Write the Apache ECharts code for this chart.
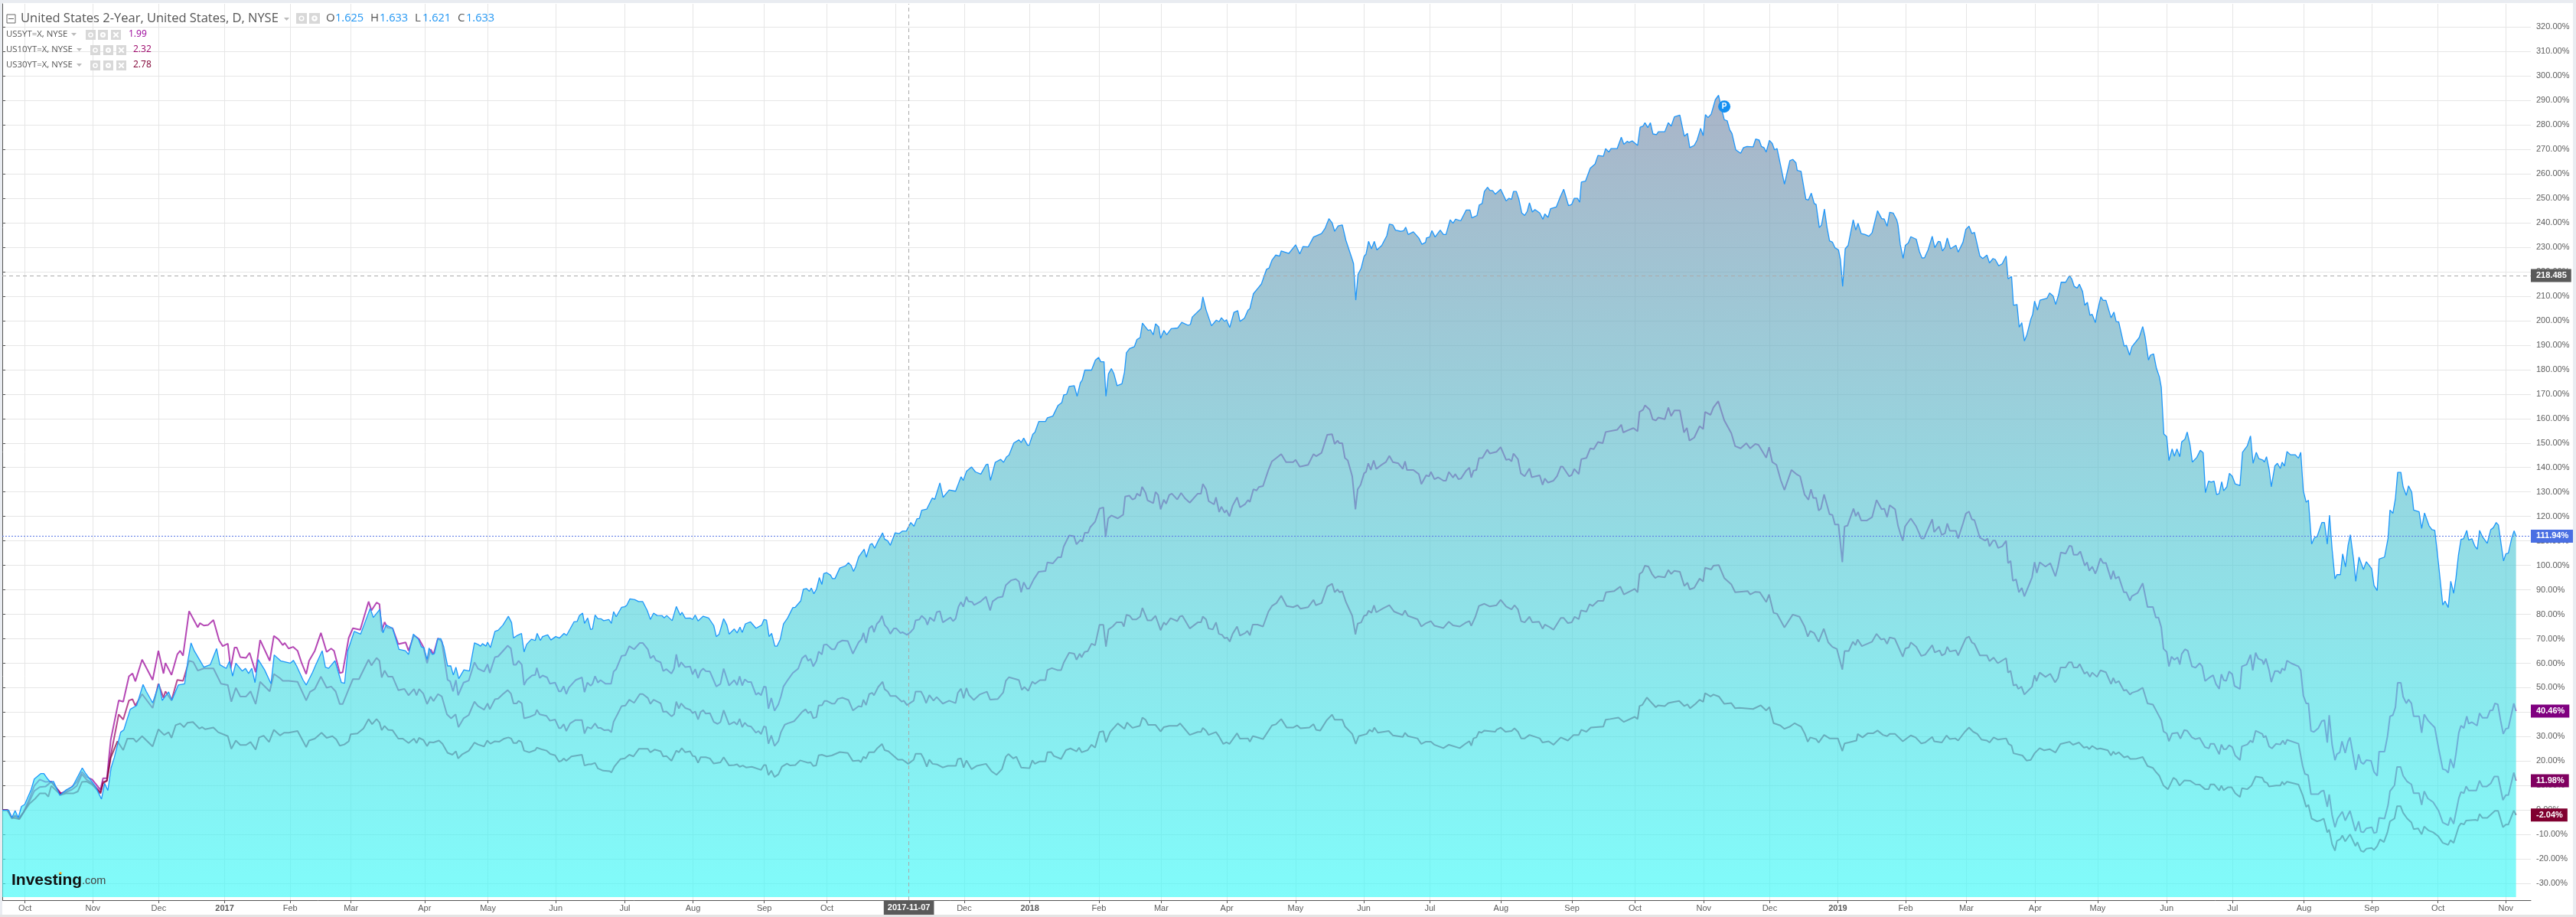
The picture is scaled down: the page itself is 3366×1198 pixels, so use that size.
<!DOCTYPE html>
<html><head><meta charset="utf-8"><style>html,body{margin:0;padding:0;background:#fff}#c{width:3366px;height:1198px}</style>
<script src="https://cdn.jsdelivr.net/npm/echarts@6/dist/echarts.min.js"></script></head><body><div id="c"></div>
<script>
// x = trading session counted from the first bar, y = % change since then
const monthSessions=[7.1,28.3,48.9,69.5,90,109,132,151.8,173,194.6,215.9,238.2,257.8,279.3,300.7,321.2,342.8,362.3,382.8,404.3,425.6,446.3,468.5,490.7,510.4,531.9,552.5,573.8,595,614,635.5,655,676.6,697.2,719.5,740.7,761.4,782.6];
const monthLabels=['Oct','Nov','Dec','2017','Feb','Mar','Apr','May','Jun','Jul','Aug','Sep','Oct','Nov','Dec','2018','Feb','Mar','Apr','May','Jun','Jul','Aug','Sep','Oct','Nov','Dec','2019','Feb','Mar','Apr','May','Jun','Jul','Aug','Sep','Oct','Nov'];
const percentTicks=[-30,-20,-10,0,10,20,30,40,50,60,70,80,90,100,110,120,130,140,150,160,170,180,190,200,210,220,230,240,250,260,270,280,290,300,310,320];
const lastValues={us2y:111.94,us5y:40.46,us10y:11.98,us30y:-2.04};
const crosshairSession=283.4, crosshairPercent=218.4, crosshairPriceText='218.485', crosshairDateText='2017-11-07';
const noteSession=538.3, notePercent=287.5;

const us2y=[[0,0],[2,0],[3,-3.1],[4,-0.2],[5,-3.1],[6,1.5],[7,2.3],[9,8.3],[10,12.7],[12,14.9],[13,14.9],[14,13],[15,11.5],[16,11.7],[18,6],[20,8.3],[22,9.7],[25,17.2],[26,15.1],[29,9.9],[31,4.5],[32,10.9],[33,8],[34,17.2],[35,21.4],[37,31.8],[38,32.8],[40,41.2],[42,42.7],[44,51.3],[45,48.5],[47,43.8],[49,51.6],[50,44.8],[52,48.3],[53,44.8],[55,51.1],[57,51.6],[58,61],[59,68.3],[60,65.1],[63,58.4],[65,59.4],[67,66],[68,59.4],[70,57.9],[71,60.8],[72,54.7],[73,60],[75,56.8],[76,57.9],[77,55.8],[78,57.9],[79,52.1],[80,61.5],[82,57.3],[84,51.6],[85,63.4],[87,61],[90,60],[91,61.2],[92,58.9],[94,53.2],[95,51.1],[97,56.3],[98,59.4],[100,65.1],[101,58.4],[102,57.9],[104,61],[106,52.1],[107,51.8],[108,65.1],[110,73],[112,71.9],[115,82.4],[116,78.7],[118,82],[119,72.4],[120,75.6],[122,74.3],[124,65.7],[126,65.1],[127,63.6],
[128.5,71.9],[130.1,69.8],[131,66.7],[131.8,66.4],[132.8,61.5],[133.4,66.2],[134.4,63.6],[135.1,64],[136.1,70],[137.1,70],[138,66.7],[139.2,58.9],[140.2,58.9],[141,55.2],[141.8,58.4],[142.7,53.7],[144.3,57.3],[146,56.8],[147.6,68.3],[148.7,67.7],[149.5,67],[150.1,68],[151.2,67],[151.7,68.6],[152.6,66.4],[154,73],[155,73.5],[156.5,75.6],[158.2,79.2],[159.2,76.6],[159.8,70.3],[161,71.4],[162.3,72.2],[163.1,64.6],[163.9,67.7],[165.4,69.8],[166.6,69.3],[167.2,72.2],[168.2,69.3],[168.9,70.9],[170.5,71.6],[171.5,69.5],[173,70.9],[174.2,70.3],[175.6,72.2],[176.4,71.4],[178.7,76.9],[179.7,77.1],[180.4,79.5],[181.4,80.5],[182,76.3],[183,78.5],[183.9,73.8],[184.5,74],[185.3,79.7],[186.2,78.2],[187.1,78.2],[188,77.4],[189.6,77.9],[190.4,76.3],[191.1,81.1],[191.9,79],[193.6,82.9],[194.6,83.1],[195.2,83.7],[196.2,86.3],[197.7,86],[198.9,85.2],[200.2,85.2],[201.6,81.6],[202.6,77.9],[203.6,80.5],[204.7,79.5],[206.3,79.4],[206.9,78.5],[207.7,79.5],[209.4,77.4],[210.7,83.2],[211.9,79.7],[212.5,80.8],[213.5,78.4],[215,78.5],[215.8,77.9],[216.6,79.7],[217.5,77.3],[219.1,79.2],[220.8,78.5],[222.4,75.4],[223.2,70.9],[224.1,71.9],[225.5,78.2],[226.5,75.6],[227.2,71.9],[228.8,74],[229.7,72.4],[230.6,74.8],[231.3,72.6],[232.3,76.1],[233.9,76.9],[235.6,74.3],[237.4,75.6],[238.1,77.9],[238.9,77.6],[239.7,70.9],[240.5,72.2],[241.5,67],[242.2,67],[243.2,69.8],[244.2,76.1],[245.5,78.5],[247.1,82.7],[247.9,82.9],[249.6,85.5],[250.4,90.2],[251.4,90.5],[252.3,89.4],[252.9,90.7],[253.7,88.4],[254.5,90.2],[255.4,95],[256.2,92.2],[256.8,96.6],
[257.7,97],[258.9,96],[259.5,94.6],[260.3,94.6],[261.8,98.9],[263.6,99.8],[264.5,101.1],[265.3,100],[266.1,97.5],[266.8,99.6],[267.7,103.4],[269.4,106.6],[270.1,103.3],[271.3,108.5],[271.9,108.9],[272.7,107],[273.8,110],[275.2,113.3],[275.8,110.7],[276.8,110],[277.6,108.2],[279.1,113.3],[280.4,113],[281.4,114],[282.6,114],[284,117.5],[285,116],[285.9,119],[286.7,119.2],[287.4,122.5],[289,123],[290.7,127.5],[291.5,127],[293.1,133.7],[294.1,127.8],[296,130.8],[298,130.3],[299.7,136.2],[300.4,134.7],[301.4,138.4],[303,140.2],[304.2,138.2],[305.9,137.3],[307.5,141.1],[308.1,141.4],[308.9,134.7],[310.4,142.1],[312.1,143.3],[313,142.1],[313.9,144.3],[314.7,145.1],[316.2,150],[317.8,151.3],[318.5,150.2],[319.3,152],[320.5,149.1],[321,149.1],[322.1,153.5],[322.8,154.4],[324,158.8],[326.1,158.8],[326.7,160.3],[328.4,161],[330,165.3],[331.2,166.5],[331.8,169.7],[332.7,169.9],[333.5,173.1],[335.1,173.4],[336,169.1],[337,174.6],[337.6,175.8],[338.4,179.8],[340.5,179.8],[341.7,183.9],[342.7,185],[343.4,183.2],[344.4,183.2],[345,169.1],[345.8,178.3],[346.7,180.4],[347.5,178.3],[348.5,173.4],[350,174.2],[350.8,179],[351.4,186.9],[352.4,188.6],[353.9,189.4],[354.7,192.3],[355.7,193.1],[356.4,199],[358.2,196],[358.9,196.3],[359.8,194.2],[360.5,198.7],[361.5,197.5],[362.1,192.8],[363.1,196],[364,194.2],[365.4,196.7],[367.4,197],[368.7,199.3],[370.7,198.1],[371.4,198.5],[372,201.5],[374.7,204.9],[375.3,209.7],[376.3,204.4],[378,197.9],[379.5,200.2],[380.4,199.6],[381.1,201.2],[382.1,199.7],[382.7,200.4],[383.7,197.2],[385,203.4],[386.2,204.1],[386.9,199.7],
[388.3,201],[389.4,204.3],[390,204.9],[391.1,211],[392.4,213.1],[393.6,215],[395.2,221],[396,221.5],[396.9,224.7],[398.1,226.8],[399.3,226.4],[399.8,228.5],[402.2,227.5],[404.3,231],[405.6,227.3],[406.6,230.3],[408.2,230.1],[409.9,234.2],[412.4,235.6],[413.5,237.7],[414.7,241.7],[415.7,240],[416.5,236.5],[417.6,238.7],[418.9,239.1],[420,232.9],[422,225],[422.4,223.3],[423.1,208.4],[423.8,218.9],[424.8,221.5],[425.7,226.3],[426.3,227.2],[427.1,232.4],[428,229.4],[428.9,232.4],[429.7,228.9],[431.2,230.7],[432.8,234.7],[433.6,239.4],[434.7,239.1],[435.5,237],[437.2,236.5],[438.1,236.8],[438.7,238.2],[439.5,235.2],[441.1,236.3],[442.8,233.8],[443.8,231.2],[444.9,232],[445.2,233.8],[446.2,234.2],[446.9,236.8],[447.9,234.2],[449.5,237],[450.5,235.2],[451.3,235.2],[452.6,241.2],[453.5,239.8],[454.3,241.5],[455.9,240.8],[457.6,245.2],[458.8,245.2],[459.4,242],[461,243],[461.7,247.3],[462.6,247.9],[463.3,252.8],[464.3,254.5],[465,253.3],[465.9,253.1],[466.7,251.7],[468.4,253.7],[470.1,248.9],[471,250],[471.8,249.6],[472.4,252.8],[473.3,252.8],[474.1,249.6],[475,244],[475.9,243],[476.7,244.7],[477.4,248.2],[478.3,244.4],[479.1,245.4],[480.6,244],[481.6,241.4],[482.2,243.6],[483.2,242.2],[484,245.8],[485.8,246.5],[487,250.5],[488.1,253.7],[489.6,247],[490.6,247.5],[491.4,250],[492.4,250],[493.1,248.4],[493.6,256.6],[494.9,257],[496.4,262.3],[497.9,264],[498.8,267.5],[500.5,267.2],[501.2,270.3],[502.2,268.9],[502.9,270.3],[504.8,270.3],[506.1,275],[506.9,272.1],[508,273.3],[508.5,272.8],[509.5,273.5],[511.2,271.6],[512,279.1],[512.9,279.5],[513.5,280.9],[514.4,278.9],[515.2,280.9],[516,276.3],[517.1,276],[517.7,277.2],[519.7,277.2],[520.8,280.9],
[521.7,279.5],[522.7,283.3],[524.4,284],[525.8,275.4],[526.8,276.5],[527.5,270.7],[528.9,271.6],[529.8,273.8],[530.9,278.6],[531.7,275.6],[532.4,284.2],[533.2,283],[534.2,284.4],[535.5,290.3],[536.5,292.1],[537.3,287.4],[538.3,282.1],[539.2,281.7],[540,278],[540.7,276.5],[541.9,269.8],[543.4,268.4],[544.3,270.7],[545.4,271.2],[547.3,271],[548.1,274.2],[549.2,273.8],[549.9,271.2],[550.7,270.7],[551.4,268.9],[552.4,273.7],[553.3,272.4],[554,269.8],[554.8,270.3],[556,262.8],[557.1,255.8],[558.8,265.4],[559.7,265.9],[560.7,264.5],[561.1,261.4],[562.3,261],[563.8,249.6],[564.6,249.3],[565.5,252.1],[566.4,247.9],[567,247.5],[568,238],[568.7,239.1],[569.6,245.6],[570.4,238.2],[571.2,232.6],[572.1,232.1],[572.9,229.8],[574,228.9],[574.6,225],[575.3,214],[576.1,229.4],[577,230.7],[578.6,241.2],[579.4,237],[580.1,239.8],[581.1,235.6],[582.3,235.2],[583.5,234.5],[584.5,235.9],[586.2,244.9],[587.5,241.7],[588.3,241.5],[589.2,238.6],[590,244.3],[591.1,244],[592.2,241.2],[592.6,239.1],[593.3,231.2],[594.2,225.4],[594.9,230.8],[595.8,231.7],[596.6,234.3],[598.3,233.3],[599.3,228.2],[600.1,225.6],[600.9,225.7],[602,228.9],[603.3,234.5],[604.1,229.8],[605.2,232.4],[605.8,232.2],[606.5,228.5],[607.3,230],[608,233.8],[609,229.4],[610.7,230.8],[611.4,228],[612.9,232],[613.8,237.3],[614.8,238.6],[615.7,235.6],[616.5,236.1],[618.2,226.4],[619.1,225.4],[620.4,226.8],[621.2,223.6],[622.3,225.4],[623,225],[624.1,222.4],[625.2,223.3],[626.4,226.4],[627,217.1],[628.1,218],[628.7,206.3],[629.8,206.6],[630.5,197.3],[631.3,199.2],[632.1,191.7],[632.9,194.3],[634.1,200.5],[634.7,202.6],[635.3,208],[636.2,204.3],[637,208.4],[639.2,209.2],[640,211.3],[641.1,210.1],[641.9,206.6],[642.8,210.6],[643.6,215.7],[645,215.7],[646.2,218.4],[646.9,217.1],[647.7,214],[648.6,213.3],[649.3,214.9],[650.3,211.9],[651,206.3],[651.8,207.5],[652.6,202.2],[653.3,202.6],[654.3,199.2],[654.8,203.1],
[656,209.7],[656.7,208.3],[657.6,208.3],[659.2,201.2],[660.1,203.5],[660.8,199.6],[661.6,199.5],[663.3,189.6],[664,189.9],[665,185.9],[665.7,189.3],[668,193.1],[669.1,197.6],[669.8,193.6],[670.9,183.9],[671.5,185.9],[672.5,186.4],[673.4,180.5],[674.3,177.1],[674.9,172.8],[675.7,153.7],[676.6,152.6],[677.3,142.8],[678.3,147.6],[679,144.6],[679.8,147.6],[680.7,144.4],[681.3,150.5],[682.3,151.6],[683,154.5],[683.9,149.2],[684.6,142.2],[686,144.1],[687.1,147],[688,146],[688.7,129.7],[689.7,134.4],[690.5,134],[691.4,134.4],[692.2,128.9],[693,129.3],[693.8,134.2],[694.4,130.5],[695.4,132.1],[696.2,137.6],[697.1,136.4],[698,133.3],[699.5,132.6],[700.3,146.2],[701.8,148.9],[702.8,152.9],[703.6,141.7],[704.6,146.2],[705.4,143.6],[706.7,143],[707.1,142.2],[707.8,144.4],[708.6,139.3],[709.3,132.1],[710.4,140.6],[711.2,141.7],[712.1,139.6],[712.7,142.2],[713.4,140.6],[714.2,146.5],[715.3,145.2],[716.8,145.2],[717.8,143.8],[718.5,146.2],[719.3,130.5],[720.2,125.8],[720.9,126.6],[721.9,108.7],[722.8,111.4],[723.6,111.7],[725.1,117.5],[725.9,117.5],[726.8,108.7],[727.5,120.5],[728.3,106.6],[729.2,94.5],[729.8,96.2],[730.9,96.2],[731.6,104.7],[732.5,99.4],[733.3,108.2],[734,112.5],[735,102.6],[735.7,93.5],[736.7,103.4],[738.1,98.3],[739,101.5],[740.7,98.6],[741.4,91.8],[742.4,89.7],[743,102.6],[744.7,103.4],[745.8,111.1],[746.4,122.6],[747.3,121.3],[748.1,127.4],[748.8,138],[749.8,138],[750.5,132.1],[751.5,128.6],[752.2,132.5],[753.2,129.9],[753.8,122.6],[755.5,121.9],[756.3,115.1],[757.2,121.4],[758.6,116.2],[759.5,114.6],[760.4,114.3],[761.6,100.2],[762.9,83.8],[763.6,85.4],[764.6,82.8],[765.4,93.5],[766.3,88.6],[767,94.6],[767.8,104.2],[768.6,110.6],[769.4,110.9],[770.4,114.3],[771,110.3],[772,110.9],[772.9,107.9],[773.7,106.6],[774.4,114.3],[775.3,111.7],[776.8,109],[777.9,114.6],[778.7,115.4],[779.6,117.5],[780.3,116.5],[781.1,109],[781.9,101.8],[782.6,104.7],[783.4,105],[784.5,111.4],[785.2,114.1],[785.8,111.94]];

const us5y=[[0,0],[1.6,0],[3,-3.1],[4,-2.1],[5.3,-3.1],[6.6,-1],[8.5,4.7],[10,9.9],[11.7,12.5],[13.5,11.5],[15.3,11.7],[18.3,6.8],[19.9,7.8],[21.7,9.4],[23.3,11.5],[24.9,15.6],[26.3,13.5],[28.1,12.5],[30.7,8.3],[31.5,13],[32.7,13],[33.9,28.7],[36.4,44.8],[37.8,44.3],[39.6,54.7],[40.7,55.8],[41.6,52.6],[43.7,61.5],[47,53.2],[48.8,65.1],[50.4,55.8],[51,60.1],[52.9,55.2],[54.7,63.6],[55.6,65.1],[56.5,63.1],[58.4,81.3],[61.1,74.7],[61.8,76.4],[63,75.4],[64.3,75.6],[66,77.7],[67.8,69.3],[68.9,67],[70.5,68],[71.4,57.9],[72.6,66.4],[73.3,66.4],[74.4,62.5],[76.2,62.2],[77.3,64.3],[79.2,56.3],[80.6,69.5],[83.6,61],[84.9,71.2],[86.3,69.8],[87.7,67.4],[88.3,68.3],[89.5,66],[90.9,66.7],[92.3,65.1],[93.6,60],[95,55.6],[95.9,61],[97.7,65.1],[99.6,72.4],[101.4,64.6],[102.8,66],[103.7,65.1],[105.5,56],[106.4,56.3],[108.3,70.4],[109.6,74.3],[111.9,73.7],[114.5,85.2],[115.4,81.6],[117,84.8],[117.9,84.1],[118.6,73],[119.5,76.8],[120.4,74.5],[122,74.3],[123.8,67.8],[126.1,68.5],[127,65.1],[128.7,71.4],[130.3,69.8],[131.6,66.7],[132.8,60],[133.9,65.7],[134.8,63.6],[136.2,70.2],[137.4,68.8],
[139.2,53.2],[140,52.6],[140.9,48.5],[141.8,53.1],[142.5,46.9],[144.2,52.1],[145.8,52.9],[147.6,60.4],[148.7,57.8],[150.6,56.6],[151.7,59.6],[152.4,56],[154,62.5],[155,62.8],[158,67.2],[159,66],[159.8,59.4],[160.6,59.4],[161.4,61],[162.4,59.4],[163.1,51.1],[163.9,53.1],[165.6,55],[166.6,55.2],[167.1,58.1],[168,54],[168.9,55],[170.3,54.2],[171.2,51.6],[172.8,52.1],[174,48.5],[174.6,48.5],[175.5,50.6],[176.3,47.4],[177.1,50],[179.2,53.1],[181.2,54.2],[182,48.2],[182.9,52.1],[183.9,50.8],[184.5,51.6],[185.3,54.7],[186.2,52.1],[187,53.1],[188.6,51.6],[190.3,51.6],[191.1,56.6],[191.9,57.6],[193.6,63],[194.8,63.3],[196,67],[197.5,65.7],[199.3,68.3],[200.2,68.3],[201.8,65.7],[202.6,62],[203.6,63.1],[204.3,61.2],[205.8,60.4],[206.6,56.8],[207.6,57.6],[209.2,55.8],[210,57.8],[210.7,63.6],[211.5,58.4],[212.2,60.4],[213.5,58.4],[215,58.7],[215.8,55.4],[216.6,57.6],[217.5,53.9],[218.3,56.8],[219.1,57.8],[219.9,56.8],[221.2,56.6],[223.2,50.5],[224.5,51.6],[225.5,57.8],[227.2,50.9],[228.8,53.1],[229.7,51.1],[230.5,54.7],[231.3,50.9],[232.1,53.4],[233.1,52.3],[234.1,52.3],[235.6,47.1],[236.4,47.9],[237.2,46.9],[238.1,50.5],[238.7,50.3],[239.5,41.4],[240.4,45.8],[241.4,40.6],[242.6,43.2],[243.4,46.4],[244.2,50.5],[245.5,53.1],[247.1,56],[248.8,57.8],[250,62],[251.1,63.3],[251.9,61],[252.7,61.8],[253.5,58.7],[254.5,61],[255.2,64.8],[256.2,63.6],[256.8,67.5],[257.7,67.7],
[259.3,65.7],[260.2,65.7],[261.2,68.3],[262.6,69.3],[264.3,69.1],[265.9,63.9],[267.7,68.6],[268.6,69.8],[269.2,72.4],[270,68.3],[271,74.2],[271.9,75.3],[272.5,72.7],[273.4,76.1],[274.2,77.2],[275,79.4],[275.8,75.7],[276.8,74.2],[277.6,72],[278.7,74.2],[279.5,74.2],[280.8,72.3],[281.4,72.7],[282.8,71.6],[283.9,72.7],[284.9,74.2],[285.5,77.5],[286.7,77.9],[287.4,79.4],[288.6,77.9],[289.2,75.7],[290,78.7],[291.3,77.2],[292.1,80.9],[293.1,81.3],[294,76.7],[296.4,78.7],[297.2,77.2],[298,78.2],[298.9,83.1],[299.7,85],[300.4,83.1],[301.4,87.2],[302,85.3],[303.2,85],[303.8,83.8],[305.9,85.3],[307.5,87.2],[308.8,81.6],[309.6,85.3],[311.2,86.8],[312.7,87.2],[313.7,91.9],[315.4,93.9],[316.8,94.4],[317.8,93.4],[318.5,89],[319.3,93.1],[320.3,90.5],[321,90.5],[322.4,94.2],[324,97.4],[326.1,97.7],[326.7,101.2],[328.4,100.8],[330,103.3],[331,103.3],[331.8,107.7],[333.5,112.2],[335,111.9],[335.8,108.6],[337,110.4],[337.6,109.7],[338.4,113.3],[339.4,113.3],[340.1,115.6],[341.6,117.8],[343,123.2],[344.2,123.7],[344.9,111.6],[345.7,119.2],[346.7,120.4],[348.7,119.2],[350.4,120.7],[351,128.1],[352.3,128.5],[353.3,126.9],[354.1,127.4],[354.7,129.3],[355.7,128.4],[356.3,132.1],[357.4,129.6],[358,126.6],[359.8,125.4],[360.5,130],[361.3,128.8],[362.1,122.9],[363.1,126.9],[363.8,125.2],[364.8,128.8],[365.6,129.3],[367.3,126.9],[368.5,129.6],[369.7,127.4],[371.2,125.6],[373.7,129.3],[374.7,129.3],[375.3,133.3],[376.3,131.1],[377.1,126.3],[378.8,124.9],[379.4,127.8],[380.4,121.8],[381.1,124],[382.1,121.5],[382.7,122.6],[383.6,120],[384.6,124.4],[386,127.8],[386.9,123.7],
[388.5,125],[389.4,126.7],[390,125.9],[391.1,131.1],[392.1,130.6],[392.8,132],[394.1,132.4],[395.8,139],[396.9,142.5],[398.3,143.9],[399.8,145.5],[401.3,142.2],[403.5,142.2],[404.3,143.1],[405.6,140.3],[408.2,141.1],[409.9,145.5],[410.7,144.6],[412.4,146],[414.2,153.4],[415.7,153.6],[416.5,149.6],[417.4,151],[418,149.9],[418.9,149.9],[419.7,143.9],[420.6,142.9],[422,136.4],[423,122.9],[423.7,131.1],[424.6,132.9],[425.7,137.6],[426.3,138.2],[427,141.7],[427.8,139],[428.7,142.9],[429.5,139.4],[431.4,141.3],[432.5,142.2],[433.6,144.8],[434.7,142.2],[436.4,141.7],[437.8,139.4],[438.5,142.5],[439.1,139],[441.1,139],[442.8,137.3],[443.6,133.2],[445.1,136.8],[446,136.4],[446.6,138.2],[447.7,135.2],[448.8,136],[450.5,134.6],[451.3,134.6],[452.2,138.2],[453.5,135.9],[454.2,137.3],[455.2,135.2],[456,135.5],[457.6,138.7],[458.6,139.9],[459.2,135.9],[459.9,138.7],[460.8,139],[461.6,143.8],[462.7,143.9],[464.2,147.3],[465,145.7],[467.1,146.4],[468.4,148.3],[470.1,143.1],[471,143.4],[471.8,142.5],[472.4,145.7],[473.8,143.4],[474.7,137.6],[475.9,136.4],[477.4,139.6],[478.1,136],[480.6,136.8],[481.5,132.9],[482.2,135.5],[483.2,133.8],[484.9,134.6],[486,136.4],[487.2,140.4],[487.8,140.3],[489.8,136.4],[490.6,136.9],[491.4,139.4],[492.8,137.3],[493.6,143.4],[495.2,143.9],[496.4,147.8],[497.5,147.5],[498.8,150.4],[500.3,149.9],[501.2,154.5],[504.8,155.4],[506.1,157.5],[506.7,154.3],[508.2,155.2],[509.9,156.1],[511.2,154.8],[511.8,162.7],[512.9,163.6],[513.5,165.4],[515,163.6],[515.9,159.7],[516.9,159.2],[517.7,160.4],[519.7,159.7],[520.8,164.5],
[521.7,161],[522.7,163.3],[524.4,163.3],[525.7,154.3],[526.6,156.2],[527.4,151],[528.9,152.2],[530.6,156.9],[531.7,155.7],[532.3,162.7],[534,161.5],[534.9,164.5],[536.4,167.1],[538.3,159.2],[540.5,154],[541.7,148.7],[543.4,147.8],[545.2,149.9],[546.4,147.8],[548,149.6],[549,149.2],[551.4,144],[552.3,148.3],[553.3,142.2],[554.6,141.1],[556,134.6],[557.1,130.8],[559.3,139],[560.8,137.3],[562,136.4],[563.4,128.9],[564.6,126.8],[565.4,131.1],[566.1,127.6],[567,127.6],[567.8,122.4],[568.5,123.2],[569.5,129],[571.2,120.9],[572.1,120.6],[572.9,116.7],[574,116.7],[575.2,101.3],[575.9,115.9],[576.8,116.2],[578.7,123.2],[579.4,120.1],[580.1,121.8],[581.1,118.3],[582.8,118.3],[584.5,119.7],[585.9,126.7],[587.5,122.9],[588.3,123.2],[589.2,119.7],[590,124.6],[591.7,122.9],[592.6,116.2],[593.4,112.7],[594.1,110.1],[594.8,115.9],[596.6,119.2],[598.3,115.9],[599.9,111],[600.7,111],[603.3,118.8],[603.9,113.6],[605.4,115.9],[606.3,112.4],[607.3,113.1],[608,117.1],[608.8,114.1],[610.7,114.1],[611.4,111],[612.9,117.1],[613.8,121.1],[614.8,122],[615.7,118.8],[616.5,118.5],[618.2,111.3],[619.9,110.1],[620.6,111],[621.2,107.8],[622.3,110.1],[623,110.1],[623.9,107.1],[625.2,107.8],[626.4,110.1],[627,100.9],[627.8,101.8],[628.5,93.7],[629.5,94.3],[630.4,89],[631.3,90.8],[632.1,87.3],[634.5,95.1],[635.3,101.3],[636,96.9],[636.9,101.3],[638.7,99.5],[640.2,100.9],[641.8,95.5],[642.6,99.5],[643.5,105.3],[645,104.8],[646.2,108],[646.9,107.8],[647.5,104.3],[648.7,104.3],[649.6,105.7],[651,99.9],[651.7,101.3],[652.4,97.8],[653.3,99.5],[654.3,96.6],[654.8,98.3],
[655.9,102.9],[656.7,101],[657.6,101],[659.2,94.3],[659.9,97.8],[660.6,94.6],[661.6,95.4],[663.2,89],[664,89],[665.1,85.5],[665.7,87.4],[667.5,88.7],[669.1,92.7],[670.6,83],[672.3,83],[673.2,78.7],[674,78.7],[674.9,74.7],[675.6,65.9],[676.6,64.6],[677.3,58.7],[678.1,62.7],[679,61.4],[680,62.4],[680.7,59.5],[681.3,63.8],[682.3,65.7],[683.2,65.1],[684.5,58.7],[685.6,58.2],[686.9,60],[687.7,58.7],[688.6,52.7],[689.8,54],[691.1,55.1],[692,51.5],[693,49.5],[693.7,55.5],[694.4,53.1],[695.2,52.8],[696.1,56.6],[697.1,55.5],[697.8,50.7],[699.5,49.5],[700.1,58.7],[701.6,59.5],[702.8,63.5],[703.5,57.1],[704.4,64.3],[705.2,61.9],[706.5,61.1],[706.9,59.5],[707.6,61.9],[708.6,57.1],[709.3,52.3],[710.4,56.8],[711.4,56.8],[712.1,55.8],[712.7,57.9],[713.5,57.1],[714.2,61.1],[715.5,60],[717.8,58.7],[718.5,57.1],[719.3,46.8],[720.2,43.6],[720.9,43.6],[721.7,32.4],[722.6,31.9],[724,33.5],[725.1,36.4],[725.9,36.7],[726.8,27.6],[727.4,38.8],[728.3,26.8],[729.2,20.4],[729.8,22.8],[730.7,23.6],[731.4,28.1],[732.4,23.3],[733.3,28.1],[733.9,29.7],[735.7,16.4],[736.6,22.8],[737.3,19.6],[738.1,18.8],[739,20.4],[740.5,20.1],[741.4,15.6],[742.4,14],[743,23.9],[744.7,23.9],[745.6,30],[746.4,38.3],[747.3,38.8],[748.1,42],[748.8,52],[749.8,52],[750.5,46.3],[751.5,43.6],[752.2,45.2],[753.1,43.6],[753.8,38.3],[755.5,38.3],[756.3,31.6],[757.1,39.1],[758.4,36.4],[760.4,33.7],[761.6,25.2],[762.9,16.7],[763.8,16.4],[764.6,15.2],[765.3,20.9],[766.3,17.2],[767,22.8],[767.9,31.6],[768.6,34.5],[769.5,33.5],[770.4,38.3],[771,35.3],[772,35.9],[773.6,34.5],[774.4,39.6],[775.3,37.7],[776.8,37.7],[777.7,40.7],[778.5,40.8],[779.2,43.6],[780.1,43.2],[781,36.4],[781.8,31.1],[782.6,33.2],[783.4,33.5],[785.1,43.6],[785.8,40.46]];

const us10y=[[0,0],[1.6,0],[3,-3.5],[4,-2.6],[5.3,-3.7],[6.6,-1],[8.5,3.6],[10,7.8],[11.7,9.4],[13.5,9.6],[15.3,11.5],[18.3,6.8],[19.9,7.3],[21.7,8.3],[23.3,9.9],[24.9,14.6],[26.3,12.5],[28.1,10.9],[30.7,7.3],[31.5,11.5],[32.7,12],[33.9,22.4],[36.4,39.1],[37.8,37],[39.6,44.8],[40.7,45.3],[41.6,42.7],[43.7,47.4],[47,41.7],[48.8,51.6],[50.4,45.9],[51,48.5],[52.9,44.8],[54.7,53.2],[56.5,52.8],[58.4,61],[59.7,60.5],[61.1,57],[63,57.9],[66,57.9],[68.4,51.6],[70.5,51.1],[71.6,44.3],[73,50],[74.4,46.4],[76.2,46.4],[77.6,48.5],[79.2,43.3],[80.6,52.4],[83.6,48.5],[84.9,55.6],[86.8,53.9],[87.7,52.8],[89.5,52.8],[92.3,52.4],[95,44.8],[96.2,48.3],[97.7,49.5],[99.6,54.5],[101.4,50],[102.8,50.5],[104.2,48.5],[105.5,43.3],[106.4,43.3],[108.3,49.5],[109.6,53.5],[111.5,53.5],[114.5,61.5],[115.4,59.1],[117,62.2],[117.9,61],[118.6,54.2],[119.5,57],[120.6,54.5],[122,54.5],[123.8,49],[125.7,49.5],[127,46.9],[128.7,49.5],[129.5,46.9],[130.3,49.5],[131.6,47.6],[132.8,43.3],[133.9,46.4],[134.8,44.5],[136.2,47.4],[137.4,46.4],[139,39.1],[140.3,37.5],[141.7,39.1],[142.6,33.9],
[144.2,37.5],[145.8,38.8],[147.6,44.3],[148.7,42.5],[150.6,41],[151.7,43.6],[152.4,41.2],[154,45.3],[155,45.5],[156.5,47.4],[158,49],[159,47.6],[159.8,43.6],[160.8,43.6],[161.4,44.6],[162.4,43.6],[163.1,37.5],[164.7,38],[166.6,39.1],[167.1,41],[168,39.1],[170.1,38.5],[171.2,36.5],[172.8,37],[174,33.5],[174.6,33.5],[175.5,35.1],[176.3,32.3],[177.5,35.4],[179.2,36.8],[181.2,36.8],[182,31.3],[182.9,33.9],[184.1,33.3],[185.3,35.4],[186.2,33.6],[187,33.6],[188.2,32.6],[189.5,32.8],[190.4,31.8],[191.1,36.1],[192.3,39.1],[193.6,42.5],[194.8,42.7],[196,45.1],[197.5,43.8],[199.3,47.4],[200.2,47.4],[201.8,45.8],[202.6,43.4],[203.6,45.1],[205.8,43.6],[206.6,40.1],[207.6,40.3],[209.2,38.3],[210,39.1],[210.7,44.3],[211.5,41.5],[212.2,43.6],[213.5,41.7],[215,41],[215.8,39.6],[216.6,40.3],[217.5,37],[218.3,40.1],[219.1,40.8],[219.9,39.4],[221.2,39.6],[222.4,36],[223.6,35.2],[224.5,36],[225.5,40.8],[227.2,34.9],[228.8,36],[229.7,34.9],[230.5,37.3],[231.3,33.9],[232.1,35.7],[233,34.4],[234.1,34.1],[235.6,31.6],[236.4,32.3],[237.2,31],[238.1,34.2],[238.7,33.9],[239.5,27.1],[240.4,30.5],[241.4,26.2],[242.6,28.1],[243.4,31.8],[244.6,34.9],[245.5,35.4],[247.5,36.3],[248.8,38.2],[250,40.1],[251.1,41.2],[251.9,39.6],[252.7,40.3],[253.5,37.5],[254.5,38],[255.2,42.7],[256.3,42.9],[257,44.6],[257.7,44.6],
[259.3,43.5],[260.2,43.5],[261.2,45.4],[262.6,45.9],[264.5,45],[265.9,40.7],[267.7,42.5],[268.6,42.2],[269.2,45.1],[270,42.9],[271,47.4],[271.9,47.9],[272.5,46.9],[273.8,50.3],[275.2,52.4],[275.8,49.4],[276.8,48.4],[277.6,46.6],[279.3,46.6],[281.2,44.3],[281.8,44.7],[282.8,42.9],[284.9,44.7],[285.5,48.4],[287.2,48.4],[288,46.5],[288.8,43.7],[289.8,47],[291.1,44.7],[292.1,46.2],[294,43.5],[296,44.7],[298,43.7],[298.7,47.9],[299.7,49.6],[300.5,45.7],[301.4,49.9],[302.2,47],[303.7,45],[305.5,47.2],[307.8,48.4],[308.8,45.1],[311.2,45.4],[312.9,48.1],[313.7,52.8],[314.7,54.3],[316.8,53.5],[317.8,53.1],[318.7,49.1],[319.5,50.3],[320.7,48.7],[322,52.5],[322.8,51.6],[324.4,53.1],[326.1,53.1],[326.7,57.2],[328.1,58],[329.8,57.2],[331,57.2],[331.8,60.2],[333.5,64.3],[335.1,63.9],[335.8,61.4],[336.8,63.9],[337.4,62.4],[338.3,64.6],[339.3,64.9],[340.5,68],[341.6,67.3],[343,75.7],[344.2,75.7],[345,66.8],[345.8,73.8],[347.1,75],[348.3,76.7],[350,76.7],[350.6,75],[351.4,79.8],[352.4,79.4],[353.3,77.9],[354.5,77.9],[355.7,79.1],[356.4,82.6],[358,77.5],[359.2,77.5],[360.5,79.4],[362.1,73.5],[363.1,76.7],[363.8,75.7],[365.2,78.4],[367.3,77.2],[368.1,79.1],[368.9,79.4],[371.2,74.2],[373.7,76.7],[374.7,76.7],[375.3,79.1],[376.3,77.9],[377.1,74.2],[378.4,73.8],[379.4,76.7],[380.3,72],[381.3,71.6],[382.1,70.2],[382.9,70.5],[383.7,68.8],[384.6,72],[386,75],[386.9,71.3],
[388.5,72.3],[389.2,73.2],[390,71.4],[390.9,75.8],[392.4,75.8],[394.1,75],[395.8,81.1],[396.9,83.4],[398.3,84.6],[399.8,87.6],[401.5,83.4],[403.5,82.9],[404.9,83.7],[405.8,82.3],[408.2,82.9],[409.9,85.9],[410.6,83.7],[412.4,84.6],[414.2,91.3],[415.7,92.5],[416.5,89],[417.4,90.2],[418,89],[418.9,89.4],[420,85.1],[422,79.4],[423,71.8],[423.7,76.2],[424.8,76.7],[425.7,79.4],[426.5,79.7],[427.1,81.5],[428,80.6],[428.8,83.7],[429.5,80.8],[431.7,82.5],[433.6,83.7],[435.1,81.1],[437.7,79.7],[438.5,81.6],[439.4,79.4],[442.4,78],[443.6,75],[445.1,76.4],[446.6,77.2],[447.7,75.3],[450.5,74.4],[452.2,77],[453.5,75.5],[455.6,75],[457.6,76.7],[458.6,77.2],[459.2,75.3],[460.5,79],[461.6,83.4],[463.3,84.3],[465,83.2],[467.1,83.7],[468.4,85.9],[470.1,83.2],[471.8,82],[472.7,83.7],[473.8,82],[474.8,77.2],[475.9,76.7],[477.4,79],[478.3,76.7],[480.4,77],[481.5,74.1],[482.2,75.8],[483.4,75],[484.9,73.7],[487.2,78.5],[488.1,78.5],[489.4,76.4],[490.6,76.7],[491.5,79],[492.8,78],[493.5,81.6],[495.2,81.1],[496.2,84.1],[497.1,83.4],[498.8,85.5],[500.5,85.5],[501.3,89],[503.9,89.5],[505.8,91.3],[506.9,88.1],[510.3,90.4],[511.2,89],[511.8,96.5],[512.7,97.3],[513.5,99.9],[514.6,99.5],[515.7,96.5],[516.7,94.8],[517.6,95.5],[519.7,95.1],[520.8,98.1],
[521.7,96.5],[522.7,97.8],[524.4,97.4],[525.8,91.6],[526.8,92.9],[527.5,90.2],[528.9,90.8],[530.6,94.6],[531.7,93.4],[532.3,99],[534.2,98.3],[534.9,99.9],[536.6,100.1],[538.3,94.8],[540.5,92.2],[541.7,89],[545.6,89.5],[546.4,88.1],[548,89.2],[549.4,89],[551.4,85],[552.3,88.1],[553.7,80.6],[554.8,80.2],[557.1,74.6],[559.7,79.9],[561.8,79],[563.4,75],[564.4,70.9],[565.2,73.2],[566.4,72.3],[567.8,68.8],[569.4,74.1],[570.8,68.5],[572.1,66.7],[573.5,65.8],[575.2,57.4],[575.9,65],[577.2,65],[578.5,68.8],[579.3,67.4],[580,69.7],[581.3,67],[584.5,68.8],[585.9,72],[587.3,69.7],[588.3,70],[589.2,67.9],[590,70.6],[591.6,70],[594.1,62.7],[594.9,66],[596,66.5],[596.6,68.5],[598.3,66.7],[599.9,63],[601.1,63.5],[603.3,67.4],[604.1,64.4],[605.6,65.3],[606.3,63.2],[607.3,63.9],[608,66.7],[608.8,64.8],[610.7,65.3],[611.4,63.2],[613.8,70.2],[614.8,70.9],[615.7,68.5],[616.5,67.9],[618.2,63.2],[620.4,63.2],[621.2,60.9],[622.5,62.3],[623.8,60],[626.4,62.1],[627,56.2],[627.8,56.9],[628.7,50.9],[629.6,51.3],[630.2,49.5],[631.2,50.4],[632.1,47.2],[634.5,50.4],[635.3,55.1],[635.9,52.7],[636.9,56.2],[638.7,54.4],[640.2,55.7],[641.7,52.2],[642.6,53.9],[643.4,58.3],[645,58.3],[646,60.4],[646.9,60.4],[647.5,58.3],[648.7,58.3],[649.4,59.7],[650.9,55.7],[651.7,56.5],[652.6,54.4],[653.3,56.2],[654.8,54.4],
[655.9,57.1],[657.6,56.3],[659.2,51.5],[659.9,54],[660.6,52],[661.6,52.7],[663.2,48.8],[664,49.1],[665.1,47.2],[665.7,47.9],[667.5,48.7],[669.1,50],[670.6,43.6],[672.3,43.1],[673.4,40.4],[674.9,36.7],[675.6,32.1],[676.6,31.3],[677.3,28.1],[678.3,31.3],[680,31.6],[680.9,29.2],[682.1,32.7],[683,32.4],[684.5,29.7],[685.6,29],[686.9,29.5],[688.6,25.7],[689.8,25.2],[690.3,27.1],[691.4,27.1],[693,22.8],[693.7,26.8],[694.4,24.9],[695.2,24.9],[696.1,26.5],[697.1,25.7],[698,22.3],[699.5,20.4],[700.1,26],[701.8,26.8],[702.8,28.4],[703.5,27.6],[704.4,32.4],[706.5,31.1],[706.9,29.7],[707.6,30.3],[708.6,26],[709.5,25.2],[710.8,27.1],[712.1,26.8],[712.9,28.4],[713.6,26.8],[714.2,28.7],[717.8,27.1],[719.1,18],[719.8,14.8],[720.8,14.3],[721.7,6.5],[724,6.5],[724.9,7.7],[725.7,8],[726.8,1.3],[727.4,6.4],[728.3,-2],[729.2,-7],[730,-3.5],[731.5,-0.6],[732.4,-4.3],[733.9,-0.3],[735.6,-8.6],[736.6,-4.6],[737.3,-8.8],[738.1,-9.1],[739,-7.5],[740.7,-7],[741.4,-9.4],[742.2,-9.1],[743,-3.2],[744.7,-3.5],[745.8,2.1],[746.4,7.7],[747.8,10.1],[748.6,17.6],[749.7,17.6],[750.5,14],[751.8,11.6],[753.1,10.5],[753.8,6.9],[755.5,6.9],[756.3,2.1],[757.1,7.7],[758.2,4.8],[759.9,3.2],[761.6,-0.3],[762.9,-5.1],[764.6,-6.2],[765.3,-3],[766.3,-5.6],[767.9,4.8],[768.6,7.4],[769.5,6.9],[770.2,9.7],[771,8],[773.4,8],[773.8,7.4],[774.4,12],[775.3,9.6],[776.6,9.6],[777.9,10.9],[779,13.7],[780.2,13.7],[781.7,4.1],[782.6,6.1],[783.4,6.1],[785.1,15.3],[785.8,11.98]];

const us30y=[[0,0],[1.6,0],[3,-3.1],[5.3,-3.7],[6.6,-1],[8.5,2.6],[10.3,4.7],[11.7,6.8],[13.5,6.8],[14.4,5.5],[15.3,9.9],[18.3,6.2],[19.9,6.8],[22.2,6.8],[23.6,7.6],[24.9,11.5],[26.3,11.7],[28.1,10.4],[30.7,6.8],[31.5,10.9],[32.7,12],[33.9,21.4],[36,28.1],[37.8,24.5],[39.1,29.2],[41,29.2],[41.9,27.8],[43.7,30.2],[47,26],[48.8,33],[50.6,30.7],[52,31.8],[52.9,29.5],[54.2,34.7],[55.6,35.4],[56.8,33.9],[57.9,35.7],[59.6,36],[61.6,33.3],[62.5,33.9],[63.4,33],[66,33.7],[67.5,31.8],[70.5,30.2],[71.6,25],[73,28.4],[74.4,26.6],[76.2,26.6],[77.6,27.8],[79.2,24.7],[80.3,29.7],[81.7,30.4],[83.4,27.8],[84.9,32.8],[86.8,30.5],[88.1,31.6],[89.5,31.6],[92.3,32.3],[93.6,29.2],[95,25.7],[95.9,28.4],[97.7,29.2],[99.8,31.6],[101.4,29.5],[103.2,30.2],[104.4,28.9],[105.5,26.3],[106.9,26.8],[108.3,28.1],[108.9,31],[111,31.3],[112.9,33.3],[114.5,37.2],[115.6,35.1],[117,37.2],[117.9,35.8],[118.6,32.6],[119.5,34.4],[120.6,32.8],[122,32.6],[123.8,29.2],[125.2,29.2],[127,27.4],[128.7,29.2],[129.5,27.4],[130.3,29.5],[131.6,28.7],[132.8,26.1],[133.5,27.8],[134.8,27.6],[136.5,28.4],[137.6,27.1],
[139.2,23.4],[140.7,22.6],[141.8,24],[142.5,21.1],[143.7,22.7],[145.8,24.2],[146.8,26],[147.6,27.6],[148.7,26.8],[150.6,26],[151.6,28.4],[152.6,27.1],[154,28.1],[155.3,27.9],[156.9,29.2],[158.2,29.7],[159.1,29.2],[159.8,27.4],[160.8,27.4],[161.4,28.4],[162.3,27.8],[163.1,24.3],[164.7,23.6],[166.6,24.5],[167.1,25.5],[168.9,24.7],[170.1,24.3],[171.3,22.9],[172.8,22.4],[174,19.8],[174.8,20.1],[175.5,21.1],[176.3,20.1],[177.9,21.9],[181.2,22.6],[182,18.2],[183.3,18.7],[184.1,18.7],[185.3,19.3],[186.2,17],[187.8,16.1],[189.9,15.9],[190.4,15.3],[191.3,17.7],[193.2,20.8],[194.6,21.1],[196,22.6],[197.3,21.9],[199,25],[201.8,25],[202.6,23.6],[203.9,24.7],[205.8,24],[206.6,21.9],[207.6,22.1],[209.2,20.1],[210.7,24.3],[211.5,23.6],[212.4,25.3],[213.5,23.6],[215,24],[215.8,22.1],[216.6,21.9],[217.5,19.3],[218.3,21.6],[219.9,21.6],[221.2,21.1],[222.4,19],[224.5,19.5],[225.5,21.6],[227.2,18.2],[228.8,18.4],[229.7,18.7],[230.5,17.7],[231.5,18.2],[232.5,17.4],[234.3,17.7],[237.2,16.4],[238.1,18.4],[238.7,18.4],[239.5,14.3],[240.4,16.1],[241.4,13.5],[242.6,14.6],[243.7,17.7],[245.3,19],[246.3,18.2],[247.9,18.4],[249.4,20.3],[251.2,19.6],[251.9,19.3],[252.7,19.5],[253.5,18],[254.4,18.2],[255.2,22.4],[256.2,22.6],[257.7,21.9],
[259.3,22.3],[261.8,23.7],[264.3,23.3],[265.9,20],[267.7,20.3],[268.4,19.6],[269.2,21.8],[270,21.1],[270.9,23.6],[272.5,23.6],[273.4,25.1],[275,27],[275.8,24.5],[277,24],[280,20.6],[281.4,20.6],[283.2,18.9],[284.9,20.6],[285.5,23],[287.2,23],[288,21.1],[289,17.7],[289.8,20.6],[290.8,18.9],[292.3,18.6],[294,17.4],[295.6,18.1],[298.1,18.1],[298.7,20.8],[299.7,21.1],[300.5,17.4],[301.4,20.3],[303,16.7],[304.7,18.1],[307.5,18.9],[309.2,15.9],[310.8,14.4],[312.5,16.7],[313.7,21.8],[314.5,22.9],[316,21.1],[317,21.8],[318.5,17.4],[321.1,17.1],[322,20.3],[322.8,18.9],[324.3,19.9],[326.1,19.9],[326.7,23.6],[327.9,23.7],[328.7,22.1],[331,20.9],[332.5,24.5],[333.9,25.2],[335.8,24],[336.6,25.5],[337.4,23.6],[339.3,24.5],[340.5,26.7],[341.6,25.5],[343,31.9],[344.2,32.2],[345,27.7],[346.3,31.9],[348.7,35.4],[350.8,33.2],[351.6,35.8],[353.3,33.6],[355.6,34.4],[356.4,37.8],[357.4,36.9],[358.2,34.8],[360.5,34.8],[362.1,32.1],[363.1,33.9],[364.8,34.4],[367.3,34.4],[368.2,35.4],[371.2,30.7],[373.7,31.9],[374.7,31.9],[375.3,33.6],[376.3,32.4],[377.1,30.7],[379.4,31.9],[380.4,30],[381.7,27],[382.7,27.7],[383.6,27],[386,31.4],[386.9,29.2],
[389.4,29.3],[390,27.9],[390.9,30.2],[391.9,29.9],[394.1,29],[396.9,34.6],[398.1,35],[399.8,37.2],[401.5,33.7],[403.5,33.7],[404.8,34.6],[405.8,33.4],[408.6,33.7],[409.9,35.1],[410.7,32.8],[412,32.5],[414,36.7],[415.7,39],[416.5,36.9],[418.9,36.9],[419.7,34.2],[422,31.1],[423.1,27],[424,30.2],[426.5,31.1],[427.4,32.8],[428.3,32],[428.9,33.7],[430,31.6],[433.4,32.3],[434.7,30.5],[437.8,29.9],[438.5,31.6],[439.4,30.2],[442.4,29.3],[443.6,27],[444.9,27.9],[446.6,27.9],[447.7,26.7],[450.5,25.3],[452.2,26.7],[455.6,25.3],[457.3,27],[458.6,28.1],[459.2,26.3],[459.9,29.3],[460.8,29.7],[461.6,32],[462.4,31.6],[463.3,32.5],[466.7,32],[467.1,32.8],[468.4,33.7],[469.9,32],[471.8,32.3],[472.7,33.4],[473.8,32],[474.8,29.3],[475.9,29.3],[477.4,30.7],[480.6,29.3],[481.5,27.6],[483.4,28.1],[484.9,26.7],[487.2,29.7],[489.4,28.4],[491.2,30.7],[492.8,30.7],[493.6,32.8],[495.2,32],[496.6,33.7],[500.5,34.1],[501.2,36.9],[502.6,37.2],[505.2,37.8],[506.9,36],[510.3,38.1],[511.2,37.2],[511.8,42.5],[512.7,43],[514.1,46],[515.9,43.4],[516.9,42],[517.6,42.8],[519.7,42.5],[520.8,43.7],
[522.5,44.2],[524.2,44.6],[525.8,42.5],[526.8,43.2],[527.6,41.6],[529.3,43.4],[530.6,45.1],[531.7,44.2],[532.3,47.8],[534,46.4],[534.9,47.2],[536.6,46.4],[538.3,43.4],[540.5,43.7],[541.7,41.6],[543,41.8],[547.3,41.3],[549.7,42.8],[551.4,40.7],[552.4,42.1],[553.7,35.5],[555.8,34.6],[557.1,33.2],[558.8,34.1],[560.3,35.5],[562.3,34.1],[563.5,31.1],[564.4,27.9],[565.2,29.7],[567,29],[567.8,27.6],[569.5,30.7],[571.2,29.3],[573.8,29.3],[575.2,24.1],[575.9,27.2],[577.2,27.6],[579.6,28.4],[580,31.1],[581.5,29.7],[583.2,31.4],[584.9,31.4],[586.2,32.5],[587.9,30.7],[589.2,30.2],[590,31.1],[591.7,31.1],[594.1,28.1],[596.6,30.5],[598.1,29.7],[599.9,27.2],[601.1,27.6],[603.3,29.9],[603.9,28.1],[606.3,27.6],[607.8,30.5],[608.8,29],[610.5,29.3],[611.4,28.4],[613.5,32],[614.8,33.7],[616.1,32],[617.4,31.1],[618.7,28.8],[620.4,28.4],[621.2,27.6],[622.5,29.7],[623.8,28.8],[626.4,29.3],[627.2,27],[628.1,26.3],[628.7,23.2],[631.5,22.3],[632.8,20.2],[634.1,20.5],[634.9,22.3],[635.3,23.2],[636.9,25.3],[638.3,24.4],[640,24.9],[641.8,23.5],[643.4,27],[646.2,27.9],[647.3,26.7],[649.2,27.6],[650.7,25.5],[651.7,25.8],[652.4,24.9],[653.3,26.2],[654.8,24.9],
[655.8,25.2],[658.2,24.4],[659.2,22.3],[659.9,23.9],[660.6,22.8],[661.6,23.6],[663.3,21.5],[664.4,22],[665.2,20.9],[667.2,21],[669.1,21.7],[670.6,18],[672.3,17.2],[673.2,15.6],[674.3,14],[675.6,10],[677,8.5],[678.7,13.2],[679.6,12.4],[680.6,10],[682.1,12.1],[683.9,12],[685.6,10.5],[686.9,10.4],[688.6,8.5],[689.7,8.5],[690.3,10.5],[691.4,10.5],[693,8],[693.7,10],[694.4,8.1],[695.7,9.3],[696.9,9.3],[698,6.9],[699.5,5.3],[700.1,8.9],[701.8,8.5],[703.1,10],[704.4,13.7],[706.5,13.2],[707.1,11.6],[708,11.1],[708.6,9.6],[710.8,10],[712.1,10],[712.7,11.6],[713.3,10.4],[714.2,11.6],[717.8,10.4],[719.1,6.1],[720.2,1.3],[720.9,2.1],[721.9,-3.5],[723.6,-4.6],[724.5,-4.3],[725.7,-3.5],[726.8,-9.1],[727.4,-8],[728.3,-13.9],[729.2,-16.6],[729.8,-12.6],[730.9,-11.8],[731.5,-10.4],[732.4,-12.8],[733.9,-9.9],[735.6,-14.7],[736.2,-13.1],[737.3,-16.6],[738.1,-17.1],[739,-15.8],[740.7,-15.5],[741.4,-16.3],[742.4,-14.7],[743.3,-12],[744.5,-13.1],[745.6,-9.1],[746.4,-4.6],[747.8,-3.5],[748.6,1.6],[749.7,1.6],[750.5,-1.1],[751.8,-3.5],[753.1,-5.1],[753.8,-7.8],[755.2,-7.5],[756.3,-9.9],[757.1,-6.7],[758.4,-8.3],[759.9,-9.1],[761.5,-10.7],[762.9,-13.4],[764.6,-14.2],[765.3,-12.3],[766.3,-13.4],[767.9,-6.7],[768.6,-5.4],[769.5,-5.9],[770.2,-4.3],[773.2,-4],[773.8,-4.3],[774.4,-1.6],[775.3,-3.2],[776.8,-3.2],[779.2,-0.3],[780.2,-0.3],[781.7,-7],[782.6,-5.9],[783.4,-5.9],[785.1,-0.2],[785.8,-2.04]];

const chart=echarts.init(document.getElementById('c'),null,{width:3366,height:1198});
const sansFont='"Liberation Sans",Arial,sans-serif', headFont='"Open Sans",sans-serif';
const txt=(x,y,text,fontSize,fill,extra)=>({type:'text',x,y,z:50,silent:true,style:Object.assign({text,fontSize,fill,fontFamily:headFont,verticalAlign:'middle',align:'left'},extra||{})});
const rect=(x,y,w,h,fill,z)=>({type:'rect',shape:{x,y,width:w,height:h},z:z===undefined?50:z,silent:true,style:{fill}});
const circle=(cx,cy,r,fill,stroke)=>({type:'circle',shape:{cx,cy,r},z:51,silent:true,style:{fill,stroke:stroke||null,lineWidth:1.5}});
const line=(x1,y1,x2,y2,stroke,w)=>({type:'line',shape:{x1,y1,x2,y2},z:51,silent:true,style:{stroke,lineWidth:w||1}});
const tri=(x,y)=>({type:'polygon',shape:{points:[[x,y],[x+7,y],[x+3.5,y+4]]},z:51,silent:true,style:{fill:'#bbb'}});
const icon=(x,y,s,kind)=>{const c=[rect(x,y,s,s,'#d8d8d8',51)];
  if(kind==='eye'){c.push(circle(x+s/2,y+s/2,s*.2,'none','#fff'));}
  if(kind==='gear'){c.push(circle(x+s/2,y+s/2,s*.27,'#fff'));c.push(circle(x+s/2,y+s/2,s*.1,'#d8d8d8'));}
  if(kind==='x'){c.push(line(x+s*.25,y+s*.25,x+s*.75,y+s*.75,'#fff',2));c.push(line(x+s*.75,y+s*.25,x+s*.25,y+s*.75,'#fff',2));}
  return c;};
const headGraphics=[
  rect(0,0,3366,4,'#e9ecf1',40),rect(0,0,3,1198,'#e9ecf1',40),rect(3362,0,4,1198,'#e9ecf1',40),rect(0,1195,3366,3,'#e4e4e4',40),
  {type:'rect',shape:{x:9,y:19,width:11,height:11},z:50,silent:true,style:{fill:'none',stroke:'#666',lineWidth:1}},line(11,24.5,18,24.5,'#666',1),
  txt(27,24,'United States 2-Year, United States, D, NYSE',16.5,'#555'),tri(371,23),...icon(387,17,14,'eye'),...icon(404,17,14,'gear'),
  txt(426,24,'O',15,'#555'),txt(438,24,'1.625',14.6,'#2196f3'),txt(484,24,'H',15,'#555'),txt(496,24,'1.633',14.6,'#2196f3'),
  txt(542,24,'L',15,'#555'),txt(552,24,'1.621',14.6,'#2196f3'),txt(598,24,'C',15,'#555'),txt(609,24,'1.633',14.6,'#2196f3'),
  txt(8,45,'US5YT=X, NYSE',11.4,'#555'),tri(93,43),...icon(112,39,13,'eye'),...icon(128,39,13,'gear'),...icon(145,39,13,'x'),txt(168,45,'1.99',12,'#990099'),
  txt(8,65,'US10YT=X, NYSE',11.4,'#555'),tri(100,63),...icon(118,59,13,'eye'),...icon(135,59,13,'gear'),...icon(152,59,13,'x'),txt(174,65,'2.32',12,'#990066'),
  txt(8,85,'US30YT=X, NYSE',11.4,'#555'),tri(100,83),...icon(118,79,13,'eye'),...icon(135,79,13,'gear'),...icon(152,79,13,'x'),txt(174,85,'2.78',12,'#800033'),
  txt(15,1150,'Investing',21,'#111',{fontFamily:sansFont,fontWeight:'bold'}),txt(107,1151,'.com',14.5,'#444',{fontFamily:sansFont}),
  circle(79,1140.5,1.6,'#f5a623')
];
const thinLine=(data,color,opacity)=>({type:'line',data,z:2,symbol:'none',showSymbol:false,smooth:false,silent:true,lineStyle:{color,width:2,opacity},itemStyle:{color},animation:false});
const tag=(v,text,bg,lineOn)=>({yAxis:v,lineStyle:lineOn?{color:'#5a78e6',width:1,type:[2,2],opacity:1}:{color:'rgba(0,0,0,0)',width:0,opacity:1},
  label:{show:true,opacity:1,position:'end',distance:0,formatter:text,color:'#fff',fontFamily:sansFont,fontWeight:'bold',fontSize:11,backgroundColor:bg,padding:[3,6,3,7]}});
chart.setOption({
  animation:false,backgroundColor:'#fff',
  grid:{left:3,top:5,width:3304,height:1171,containLabel:false,show:false},
  xAxis:{type:'value',min:0,max:790.43,position:'bottom',
    axisLine:{onZero:false,lineStyle:{color:'#555',width:1}},
    axisTick:{show:true,length:4,lineStyle:{color:'#555'},customValues:monthSessions},
    axisLabel:{show:true,margin:5,color:'#5c5c5c',fontFamily:sansFont,fontSize:11,customValues:monthSessions,hideOverlap:false,
      formatter:v=>{const l=monthLabels[monthSessions.indexOf(v)];return /^\d/.test(l)?'{y|'+l+'}':l;},
      rich:{y:{fontWeight:'bold',fontSize:11,color:'#5c5c5c',fontFamily:sansFont}}},
    splitLine:{show:true,lineStyle:{color:'#e6e6e6',width:1}}},
  yAxis:{type:'value',min:-36.82,max:329.48,position:'right',
    axisLine:{show:true,lineStyle:{color:'#555',width:1}},
    axisTick:{show:true,length:4,lineStyle:{color:'#555'},customValues:percentTicks},
    axisLabel:{show:true,margin:7,color:'#5c5c5c',fontFamily:sansFont,fontSize:11,customValues:percentTicks,hideOverlap:false,
      formatter:v=>v.toFixed(2)+'%'},
    splitLine:{show:true,lineStyle:{color:'#e6e6e6',width:1}}},
  graphic:headGraphics,
  series:[
    {type:'line',data:[],z:1,silent:true,symbol:'none',
      markLine:{silent:true,symbol:'none',animation:false,data:[
        {xAxis:crosshairSession,lineStyle:{color:'#aaa',width:1,type:[5,4]},label:{show:false}},
        {yAxis:crosshairPercent,lineStyle:{color:'#aaa',width:1,type:[5,4]},label:{show:false}}]}},
    thinLine(us5y,'#990099',.72),
    thinLine(us10y,'#990066',.72),
    thinLine(us30y,'#800033',.72),
    {type:'line',data:us2y,z:3,symbol:'none',showSymbol:false,smooth:false,silent:true,
      lineStyle:{color:'#1e96fa',width:1.3},itemStyle:{color:'#1e96fa'},
      areaStyle:{origin:-35.56,opacity:1,color:new echarts.graphic.LinearGradient(0,0,0,1,[{offset:0,color:'rgba(124,140,170,.65)'},{offset:1,color:'rgba(60,250,248,.65)'}])},
      markPoint:{silent:true,animation:false,symbol:'circle',symbolSize:16,itemStyle:{color:'#1590f2'},
        label:{show:true,formatter:'P',color:'#fff',fontWeight:'bold',fontSize:10,fontFamily:sansFont},
        data:[{coord:[noteSession,notePercent]}]}},
    {type:'line',data:[],z:6,silent:true,symbol:'none',
      markLine:{silent:true,symbol:'none',animation:false,data:[
        tag(crosshairPercent,crosshairPriceText,'#5a5a5a',false),
        tag(lastValues.us2y,lastValues.us2y+'%','#4a6fe3',true),
        tag(lastValues.us5y,lastValues.us5y+'%','#800080',false),
        tag(lastValues.us10y,lastValues.us10y+'%','#800060',false),
        tag(lastValues.us30y,lastValues.us30y+'%','#800030',false),
        {xAxis:crosshairSession,lineStyle:{color:'rgba(0,0,0,0)',width:0,opacity:1},label:{show:true,opacity:1,position:'start',distance:0,formatter:crosshairDateText,color:'#fff',fontFamily:sansFont,fontWeight:'bold',fontSize:11,backgroundColor:'#5a5a5a',padding:[4,5,4,5]}}
      ]}}
  ]
});
</script></body></html>
